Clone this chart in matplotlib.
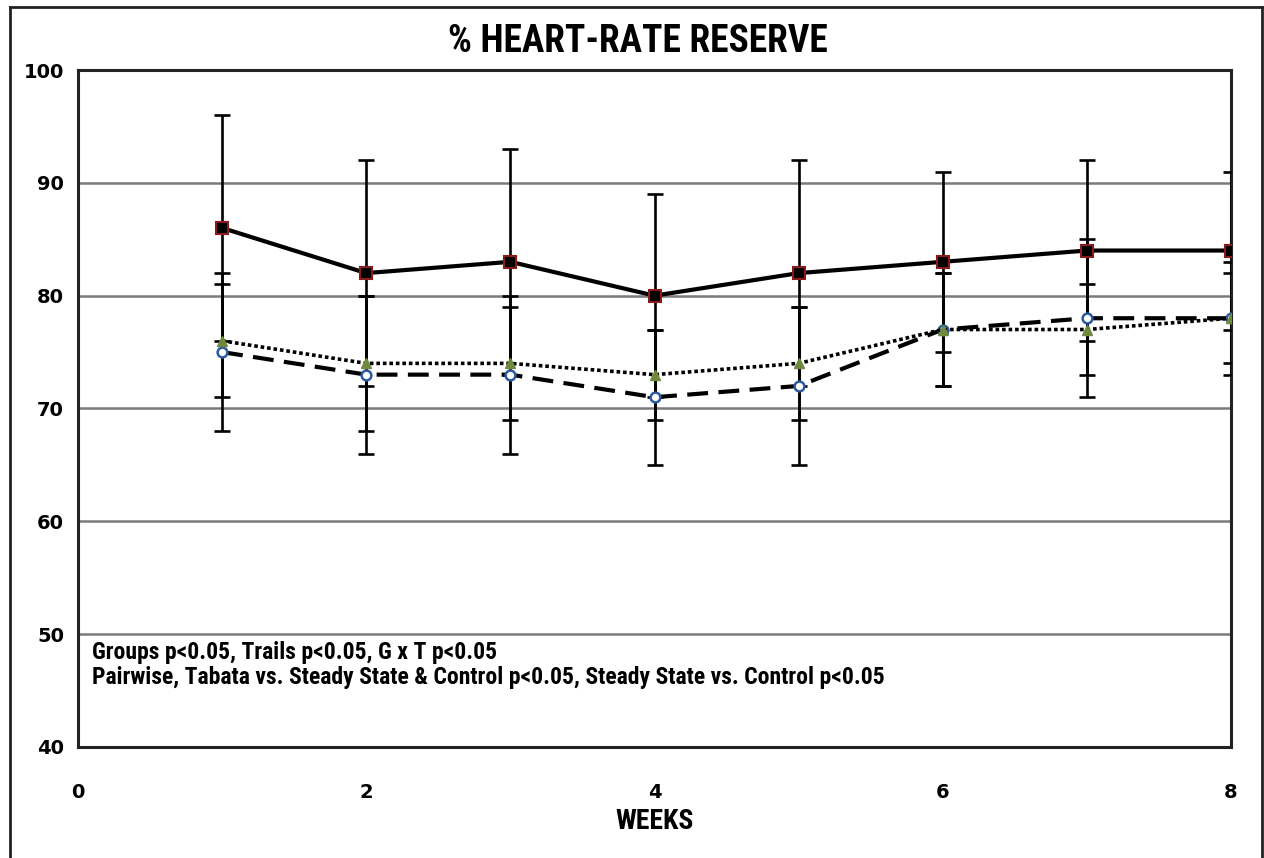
import matplotlib
matplotlib.use('Agg')
import matplotlib.pyplot as plt
from matplotlib import font_manager
from matplotlib.lines import Line2D

# weekly % heart-rate reserve, mean and SD per group
weeks = [1, 2, 3, 4, 5, 6, 7, 8]
tabata = [86, 82, 83, 80, 82, 83, 84, 84]
tabata_sd = [10, 10, 10, 9, 10, 8, 8, 7]
steady = [76, 74, 74, 73, 74, 77, 77, 78]
steady_sd = [5, 6, 5, 4, 5, 5, 4, 5]
control = [75, 73, 73, 71, 72, 77, 78, 78]
control_sd = [7, 7, 7, 6, 7, 5, 7, 4]

title = '% HEART-RATE RESERVE'
xlabel = 'WEEKS'
notes = ['Groups p<0.05, Trails p<0.05, G x T p<0.05',
         'Pairwise, Tabata vs. Steady State & Control p<0.05, Steady State vs. Control p<0.05']

# pick a narrow face for the headings if one is around
installed = {f.name for f in font_manager.fontManager.ttflist}
narrow_faces = [n for n in ['Liberation Sans Narrow', 'DejaVu Sans Condensed',
                            'Roboto Condensed', 'Open Sans Condensed',
                            'Noto Sans Condensed', 'Liberation Sans'] if n in installed]
narrow = narrow_faces[:1] + ['DejaVu Sans']
condensed = narrow[0] != 'Liberation Sans'

fig = plt.figure(figsize=(12.64, 8.58), dpi=100)
ax = fig.add_axes([78 / 1264, 1 - 747 / 858, (1231 - 78) / 1264, (747 - 70) / 858])

eb = dict(fmt='none', ecolor='black', elinewidth=1.9, capsize=6, capthick=1.9, zorder=3)
ax.errorbar(weeks, control, yerr=control_sd, **eb)
ax.errorbar(weeks, steady, yerr=steady_sd, **eb)
ax.errorbar(weeks, tabata, yerr=tabata_sd, **eb)

ax.plot(weeks, control, color='black', lw=3, dashes=(5, 2.5), zorder=4,
        marker='o', ms=7, mfc='white', mec='#2c5aa0', mew=1.8)
ax.plot(weeks, steady, color='black', lw=2.6, linestyle=(0, (1, 0.8)), zorder=4,
        marker='^', ms=7, mfc='#6f8a3c', mec='#6f8a3c')
ax.plot(weeks, tabata, color='black', lw=3, zorder=5,
        marker='s', ms=9, mfc='black', mec='#8b1a1a', mew=1.5)

ax.set_xlim(0, 8)
ax.set_ylim(40, 100)
ax.set_xticks([0, 2, 4, 6, 8])
ax.set_yticks([40, 50, 60, 70, 80, 90, 100])
ax.yaxis.grid(True, color='#7a7a7a', lw=1.8)
ax.set_axisbelow(True)
ax.tick_params(length=0, labelsize=14, pad=10)
ax.tick_params(axis='x', pad=26)
for lab in ax.get_xticklabels() + ax.get_yticklabels():
    lab.set_fontweight('bold')
for sp in ax.spines.values():
    sp.set_linewidth(2.2)
    sp.set_color('#222222')

ax.set_xlabel(xlabel, family=narrow, fontsize=20 if condensed else 17,
              fontweight='bold', labelpad=4)
fig.text(0.505, 0.952, title, ha='center', va='center', family=narrow,
         fontsize=27 if condensed else 23, fontweight='bold')

for i, line in enumerate(notes):
    ax.text(0.012, 0.14 - i * 0.037, line, transform=ax.transAxes, family=narrow,
            fontsize=17 if condensed else 13, fontweight='bold', va='center')

# outer frame around the whole figure (open at the bottom)
x0, x1, ytop = 10 / 1264, 1262 / 1264, 1 - 7 / 858
for xs, ys in [([x0, x0], [0, ytop]), ([x0, x1], [ytop, ytop]), ([x1, x1], [0, ytop])]:
    fig.add_artist(Line2D(xs, ys, color='#222222', lw=2))

fig.savefig('out.png', dpi=100)
